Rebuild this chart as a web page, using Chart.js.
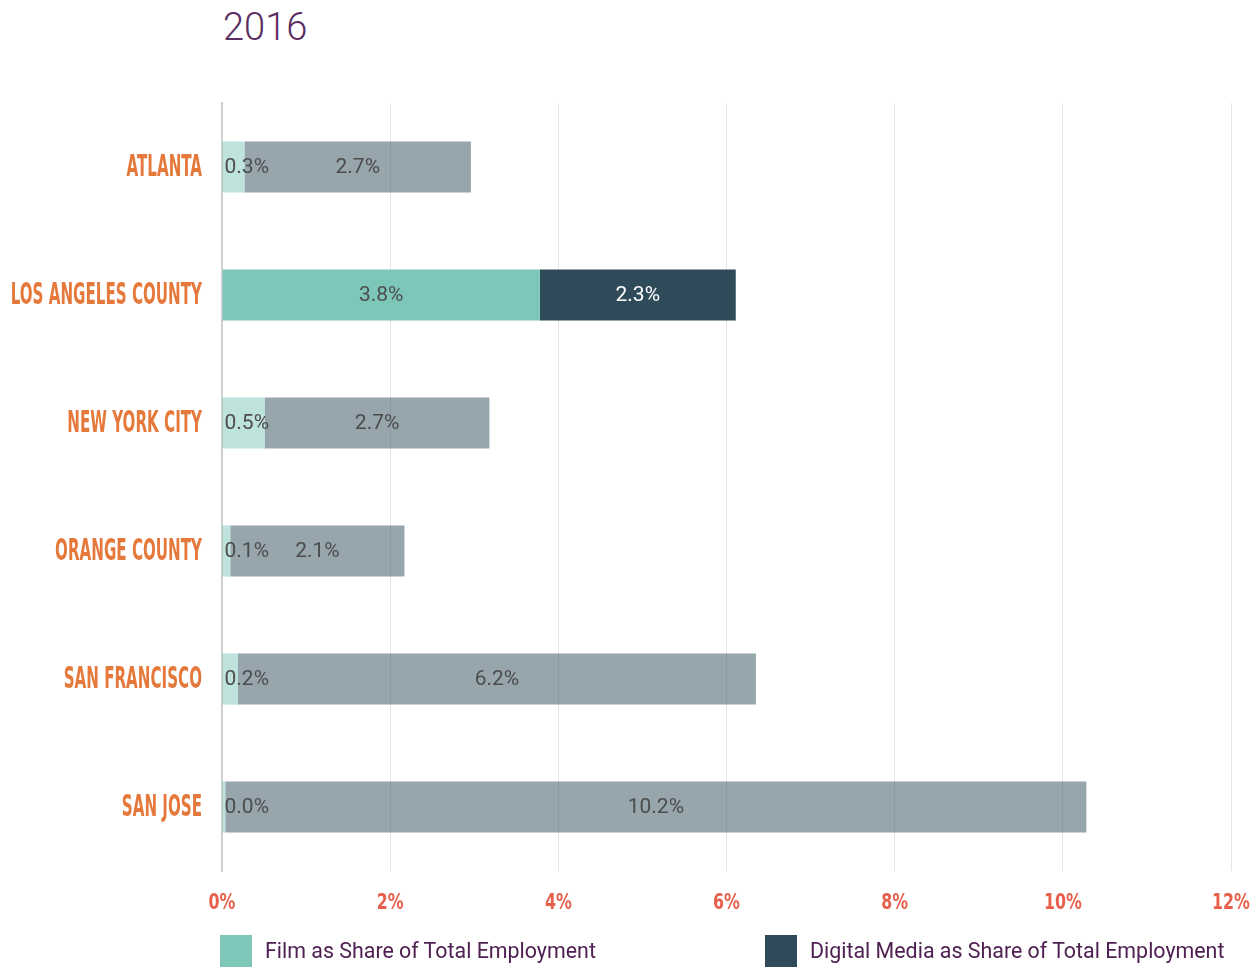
<!DOCTYPE html>
<html>
<head>
<meta charset="utf-8">
<script src="https://cdn.jsdelivr.net/npm/chart.js@4.4.0/dist/chart.umd.min.js"></script>
<style>
  body { margin: 0; background: #fff; width: 1251px; height: 968px; position: relative; overflow: hidden; font-family: Roboto, sans-serif; }
  #title { position: absolute; left: 223px; top: 8px; font-size: 38px; line-height: 38px; color: #5a2d61; font-weight: 300; }
  #wrap { position: absolute; left: 0; top: 0; width: 1251px; height: 968px; }
  .leg { position: absolute; top: 935px; height: 32px; line-height: 32px; font-size: 21.4px; color: #4f2152; white-space: nowrap; }
  .leg span { display: inline-block; width: 32px; height: 32px; vertical-align: top; margin-right: 13px; }
</style>
</head>
<body>
<div id="title">2016</div>
<div id="wrap"><canvas id="myChart" width="1251" height="968"></canvas></div>
<div id="legend"></div>
<script>
var categories = ['ATLANTA', 'LOS ANGELES COUNTY', 'NEW YORK CITY', 'ORANGE COUNTY', 'SAN FRANCISCO', 'SAN JOSE'];
var filmShare = [0.27, 3.78, 0.51, 0.10, 0.19, 0.04];
var digitalShare = [2.69, 2.33, 2.67, 2.07, 6.16, 10.24];
var xTicks = [0, 2, 4, 6, 8, 10, 12];
var seriesNames = ['Film as Share of Total Employment', 'Digital Media as Share of Total Employment'];
var highlight = 'LOS ANGELES COUNTY';

var filmRgb = [125, 198, 186];
var digitalRgb = [47, 75, 90];

function barColors(rgb) {
    return categories.map(function(c) {
        var a = c === highlight ? 1 : 0.5;
        return 'rgba(' + rgb.join(',') + ',' + a + ')';
    });
}

// value labels inside each bar segment
var barLabels = {
    id: 'barLabels',
    afterDatasetsDraw: function(chart) {
        var ctx = chart.ctx;
        ctx.save();
        ctx.font = '21px Roboto';
        ctx.textBaseline = 'middle';
        chart.data.datasets.forEach(function(ds, di) {
            chart.getDatasetMeta(di).data.forEach(function(bar, i) {
                var txt = ds.data[i].toFixed(1) + '%';
                var left = Math.min(bar.base, bar.x), right = Math.max(bar.base, bar.x);
                var w = ctx.measureText(txt).width;
                var on = categories[i] === highlight;
                ctx.fillStyle = (on && di === 1) ? '#ffffff' : '#4d4d4d';
                if (w + 4 > right - left) {
                    ctx.textAlign = 'left';
                    ctx.fillText(txt, left + 2, bar.y + 1);
                } else {
                    ctx.textAlign = 'center';
                    ctx.fillText(txt, (left + right) / 2, bar.y + 1);
                }
            });
        });
        ctx.restore();
    }
};

// condensed labels: category names and x ticks
var condensedLabels = {
    id: 'condensedLabels',
    afterDraw: function(chart) {
        var ctx = chart.ctx, y = chart.scales.y, x = chart.scales.x;
        ctx.save();
        ctx.font = 'bold 30px "Liberation Sans Narrow", "DejaVu Sans Condensed", sans-serif';
        ctx.fillStyle = '#e5793b';
        ctx.textBaseline = 'middle';
        ctx.textAlign = 'right';
        categories.forEach(function(c, i) {
            ctx.save();
            ctx.translate(chart.chartArea.left - 20, y.getPixelForTick(i));
            ctx.scale(0.56, 1);
            ctx.fillText(c, 0, 1);
            ctx.restore();
        });
        ctx.font = 'bold 22px "Liberation Sans Narrow", "DejaVu Sans Condensed", sans-serif';
        ctx.fillStyle = '#e8604c';
        ctx.textAlign = 'center';
        xTicks.forEach(function(v) {
            ctx.save();
            ctx.translate(x.getPixelForValue(v), chart.chartArea.bottom + 32);
            ctx.scale(0.8, 1);
            ctx.fillText(v + '%', 0, 0);
            ctx.restore();
        });
        ctx.restore();
    }
};

var ctx = document.getElementById('myChart').getContext('2d');
var myChart = new Chart(ctx, {
    type: 'bar',
    data: {
        labels: categories,
        datasets: [{
            label: seriesNames[0],
            data: filmShare,
            backgroundColor: barColors(filmRgb)
        }, {
            label: seriesNames[1],
            data: digitalShare,
            backgroundColor: barColors(digitalRgb)
        }]
    },
    options: {
        indexAxis: 'y',
        responsive: false,
        animation: false,
        barPercentage: 0.4,
        categoryPercentage: 1,
        layout: { padding: { top: 103, right: 20, bottom: 97, left: 0 } },
        plugins: {
            legend: { display: false },
            tooltip: { enabled: false }
        },
        scales: {
            x: {
                stacked: true,
                min: 0,
                max: 12,
                afterBuildTicks: function(s) {
                    s.ticks = xTicks.map(function(v) { return { value: v }; });
                },
                grid: { color: '#e6e6e6', drawTicks: false },
                border: { display: false },
                ticks: { display: false }
            },
            y: {
                stacked: true,
                afterFit: function(s) { s.width = 222; },
                grid: { drawOnChartArea: false, drawTicks: false },
                border: { color: '#cfcfcf', width: 2 },
                ticks: { display: false }
            }
        }
    },
    plugins: [barLabels, condensedLabels]
});

// legend
var legend = document.getElementById('legend');
var legendLeft = [220, 765];
seriesNames.forEach(function(name, i) {
    var d = document.createElement('div');
    d.className = 'leg';
    d.style.left = legendLeft[i] + 'px';
    var sw = document.createElement('span');
    sw.style.background = 'rgb(' + (i === 0 ? filmRgb : digitalRgb).join(',') + ')';
    d.appendChild(sw);
    d.appendChild(document.createTextNode(name));
    legend.appendChild(d);
});
</script>
</body>
</html>
